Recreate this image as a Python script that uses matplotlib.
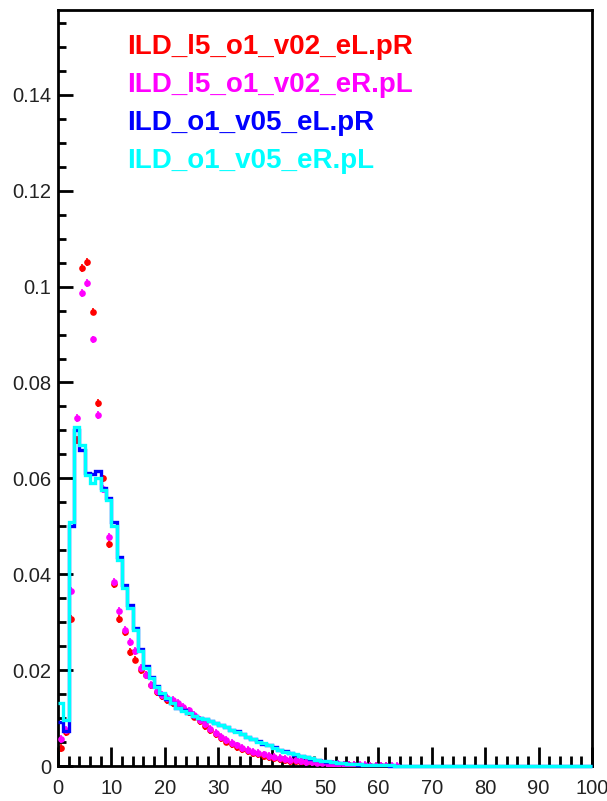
import numpy as np
import matplotlib
matplotlib.use("Agg")
import matplotlib.pyplot as plt
from matplotlib.ticker import MultipleLocator, FuncFormatter

plt.rcParams['font.family'] = ['Liberation Sans', 'DejaVu Sans']

# ---- data (bin width 1, x from 0 to 100) ----
bin_edges = list(range(0, 101))

cyan_vals = [0.0131, 0.0095, 0.0510, 0.0708, 0.0670, 0.0607, 0.0590, 0.0600, 0.0575, 0.0555,
             0.0500, 0.0430, 0.0372, 0.0330, 0.0284, 0.0240, 0.0205, 0.0184, 0.0165, 0.0152,
             0.0142, 0.0131, 0.0122, 0.0115, 0.0110, 0.0105, 0.0101, 0.0097, 0.0094, 0.0090,
             0.0086, 0.0081, 0.0076, 0.0071, 0.0066, 0.0061, 0.0056, 0.0051, 0.0047, 0.0043,
             0.0038, 0.0034, 0.0030, 0.0027, 0.0024, 0.0021, 0.0018, 0.0016, 0.0013, 0.0011,
             0.0010, 0.0008, 0.0007, 0.0006, 0.0005, 0.0004, 0.0004, 0.0003, 0.0003, 0.0002,
             0.0002, 0.00015, 0.00012, 0.0001, 0.0001, 0.00008, 0.00006, 0.00005, 0.00004, 0.00003,
             0.00002, 0.00002, 0.00001, 0.00001, 0.00001, 0, 0, 0, 0, 0,
             0, 0, 0, 0, 0, 0, 0, 0, 0, 0,
             0, 0, 0, 0, 0, 0, 0, 0, 0, 0]

blue_vals = [0.0092, 0.0072, 0.0500, 0.0700, 0.0660, 0.0612, 0.0610, 0.0615, 0.0580, 0.0560,
             0.0510, 0.0437, 0.0378, 0.0335, 0.0288, 0.0245, 0.0208, 0.0186, 0.0166, 0.0150,
             0.0140, 0.0132, 0.0121, 0.0117, 0.0111, 0.0104, 0.0100, 0.0098, 0.0093, 0.0089,
             0.0085, 0.0082, 0.0075, 0.0072, 0.0066, 0.0060, 0.0057, 0.0052, 0.0046, 0.0044,
             0.0039, 0.0034, 0.0031, 0.0027, 0.0023, 0.0021, 0.0018, 0.0015, 0.0013, 0.0011,
             0.0009, 0.0008, 0.0007, 0.0006, 0.0005, 0.0004, 0.0003, 0.0003, 0.0002, 0.0002,
             0.0002, 0.00015, 0.0001, 0.0001, 0.00008, 0.00006, 0.00005, 0.00004, 0.00003, 0.00002,
             0.00002, 0.00001, 0.00001, 0, 0, 0, 0, 0, 0, 0,
             0, 0, 0, 0, 0, 0, 0, 0, 0, 0,
             0, 0, 0, 0, 0, 0, 0, 0, 0, 0]

red_vals = [0.0037, 0.0070, 0.0307, 0.0680, 0.1039, 0.1052, 0.0948, 0.0757, 0.0600, 0.0463,
            0.0380, 0.0307, 0.0280, 0.0238, 0.0222, 0.0200, 0.0190, 0.0168, 0.0155, 0.0145,
            0.0138, 0.0132, 0.0127, 0.0120, 0.0112, 0.0103, 0.0093, 0.0084, 0.0075, 0.0066,
            0.0058, 0.0051, 0.0045, 0.0040, 0.0035, 0.0031, 0.0027, 0.0024, 0.0021, 0.0019,
            0.0017, 0.0015, 0.0013, 0.0011, 0.0010, 0.0009, 0.0008, 0.0007, 0.0006, 0.0005,
            0.0004, 0.0003, 0.0003, 0.0002, 0.0002, 0.0002, 0.0001, 0.0001, 0.0001, 0.0001,
            0.00005, 0.00005]

magenta_vals = [0.0056, 0.0075, 0.0366, 0.0726, 0.0987, 0.1008, 0.0890, 0.0732, 0.0578, 0.0478,
                0.0384, 0.0324, 0.0284, 0.0259, 0.0240, 0.0205, 0.0190, 0.0170, 0.0157, 0.0148,
                0.0142, 0.0137, 0.0132, 0.0124, 0.0116, 0.0106, 0.0096, 0.0087, 0.0078, 0.0069,
                0.0061, 0.0054, 0.0048, 0.0043, 0.0038, 0.0034, 0.0030, 0.0027, 0.0024, 0.0021,
                0.0019, 0.0017, 0.0015, 0.0013, 0.0012, 0.0010, 0.0009, 0.0008, 0.0007, 0.0006,
                0.0005, 0.0004, 0.0004, 0.0003, 0.0003, 0.0002, 0.0002, 0.0002, 0.0001, 0.0001,
                0.0001, 0.0001, 0.00005, 0.00005]

labels = ["ILD_l5_o1_v02_eL.pR", "ILD_l5_o1_v02_eR.pL", "ILD_o1_v05_eL.pR", "ILD_o1_v05_eR.pL"]
colors = ["#ff0000", "#ff00ff", "#0000ff", "#00ffff"]

# ---- figure ----
W, H = 607, 801
fig = plt.figure(figsize=(W / 100, H / 100), dpi=100)
ax = fig.add_axes([58 / W, 1 - 766 / H, (592 - 58) / W, (766 - 10) / H])

def centers(n):
    return [i + 0.5 for i in range(n)]

ax.errorbar(centers(len(red_vals)), red_vals, yerr=0.0008, fmt='o', color=colors[0],
            ms=4.8, mew=0, elinewidth=1.2, capsize=0, zorder=2)
ax.errorbar(centers(len(magenta_vals)), magenta_vals, yerr=0.0008, fmt='o', color=colors[1],
            ms=4.8, mew=0, elinewidth=1.2, capsize=0, zorder=3)
ax.stairs(blue_vals, bin_edges, color=colors[2], lw=2.4, baseline=None, zorder=4, clip_on=False)
ax.stairs(cyan_vals, bin_edges, color=colors[3], lw=2.4, baseline=None, zorder=5, clip_on=False)

ax.set_xlim(0, 100)
ax.set_ylim(0, 0.1577)

ax.xaxis.set_major_locator(MultipleLocator(10))
ax.xaxis.set_minor_locator(MultipleLocator(2))
ax.yaxis.set_major_locator(MultipleLocator(0.02))
ax.yaxis.set_minor_locator(MultipleLocator(0.005))

def yfmt(v, pos):
    if abs(v) < 1e-12:
        return "0"
    return ("%.2f" % v).rstrip('0').rstrip('.')
ax.yaxis.set_major_formatter(FuncFormatter(yfmt))

ax.tick_params(axis='both', which='both', direction='in', top=False, right=False,
               colors='black', labelcolor='#222222', labelsize=14.5)
ax.tick_params(axis='x', which='major', length=14, width=2, pad=9)
ax.tick_params(axis='x', which='minor', length=7, width=2)
ax.tick_params(axis='y', which='major', length=11, width=2, pad=5)
ax.tick_params(axis='y', which='minor', length=5.5, width=2)
for sp in ax.spines.values():
    sp.set_linewidth(2)
    sp.set_color('black')

# legend as coloured text
for i, (lab, col) in enumerate(zip(labels, colors)):
    fig.text(127 / W, 1 - (47 + 38 * i) / H, lab, color=col, fontsize=20,
             fontweight='bold', ha='left', va='center')

fig.savefig("out.png", dpi=100)
